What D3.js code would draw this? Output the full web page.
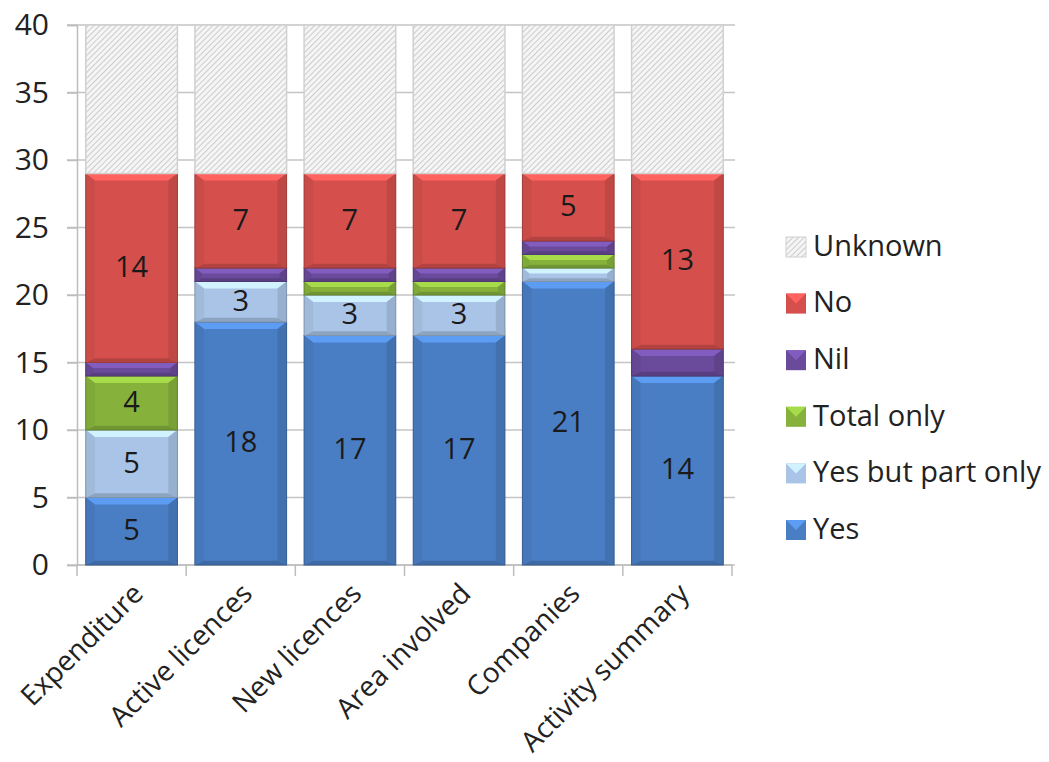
<!DOCTYPE html>
<html><head><meta charset="utf-8">
<script src="https://cdn.jsdelivr.net/npm/d3@7"></script>
<style>body{margin:0;background:#fff;font-family:"Open Sans",sans-serif;}</style>
</head><body>
<svg id="c" width="1049" height="762"></svg>
<script>
const categories = ["Expenditure","Active licences","New licences","Area involved","Companies","Activity summary"];
const seriesNames = ["Yes","Yes but part only","Total only","Nil","No","Unknown"];
const yes        = [5, 18, 17, 17, 21, 14];
const partOnly   = [5, 3, 3, 3, 1, 0];
const totalOnly  = [4, 0, 1, 1, 1, 0];
const nil        = [1, 1, 1, 1, 1, 2];
const no         = [14, 7, 7, 7, 5, 13];
const unknown    = [11, 11, 11, 11, 11, 11];
const yTicks = [0,5,10,15,20,25,30,35,40];

const colors = {"Yes":"#4a7ec4","Yes but part only":"#a9c4e6","Total only":"#86b23c","Nil":"#6a4a9a","No":"#d5504d","Unknown":"url(#hatch)"};
const seriesValues = [yes, partOnly, totalOnly, nil, no, unknown];
const FONT = "'Open Sans',sans-serif";

const svg = d3.select("#c");
const defs = svg.append("defs");
const pat = defs.append("pattern").attr("id","hatch").attr("patternUnits","userSpaceOnUse")
  .attr("width",4).attr("height",4).attr("patternTransform","rotate(45)");
pat.append("rect").attr("width",4).attr("height",4).attr("fill","#f5f5f5");
pat.append("line").attr("x1",0).attr("y1",0).attr("x2",0).attr("y2",4).attr("stroke","#c2c2c2").attr("stroke-width",1.6);

const x = d3.scaleBand().domain(categories).range([77,732]).paddingInner(0.16).paddingOuter(0.08);
const y = d3.scaleLinear().domain([0,40]).range([565,25]);

// gridlines
svg.append("g").selectAll("line").data(yTicks).join("line")
  .attr("x1",67).attr("x2",735).attr("y1",d=>y(d)).attr("y2",d=>y(d))
  .attr("stroke","#c4c4c4").attr("stroke-width",1.5);

// y axis
const ya = svg.append("g").attr("transform","translate(77,0)")
  .call(d3.axisLeft(y).tickValues(yTicks).tickSize(10).tickPadding(18));
ya.select(".domain").attr("stroke","#bdbdbd").attr("stroke-width",1.5);
ya.selectAll(".tick line").attr("stroke","#bdbdbd").attr("stroke-width",1.5);
ya.selectAll("text").attr("font-size",30).attr("fill","#222").attr("font-family",FONT);

// x axis
const edges = categories.map(c=>x(c)-x.step()*x.paddingInner()/2).concat([732]);
svg.append("g").selectAll("line").data(edges).join("line")
  .attr("x1",d=>d).attr("x2",d=>d).attr("y1",565).attr("y2",576)
  .attr("stroke","#bdbdbd").attr("stroke-width",1.5);
svg.append("line").attr("x1",77).attr("x2",732).attr("y1",565).attr("y2",565).attr("stroke","#bdbdbd").attr("stroke-width",1.5);

// stacks
const stackData = categories.map((c,i)=>{
  let acc=0;
  return seriesNames.map((s,k)=>{const v=seriesValues[k][i]; const seg={cat:c,series:s,v:v,y0:acc,y1:acc+v}; acc+=v; return seg;});
});
const bw = x.bandwidth();
const gBars = svg.append("g");
stackData.forEach(segs=>{
  segs.forEach(seg=>{
    if(seg.v<=0) return;
    const x0 = x(seg.cat), yt = y(seg.y1), yb = y(seg.y0), h = yb-yt;
    const g = gBars.append("g");
    if(seg.series==="Unknown"){
      g.append("rect").attr("x",x0).attr("y",yt).attr("width",bw).attr("height",h)
        .attr("fill","url(#hatch)").attr("stroke","#d0d0d0").attr("stroke-width",1.5);
      return;
    }
    const base = d3.color(colors[seg.series]);
    g.append("rect").attr("x",x0).attr("y",yt).attr("width",bw).attr("height",h).attr("fill",base);
    const b = Math.min(7, h/2.5);
    g.append("polygon").attr("points",[[x0,yt],[x0+bw,yt],[x0+bw-b*1.3,yt+b],[x0+b*1.3,yt+b]].join(" "))
      .attr("fill",base.brighter(0.6));
    g.append("polygon").attr("points",[[x0,yb],[x0+bw,yb],[x0+bw-b*1.3,yb-b*0.6],[x0+b*1.3,yb-b*0.6]].join(" "))
      .attr("fill",base.darker(0.5));
    g.append("polygon").attr("points",[[x0,yt],[x0+b*1.3,yt+b],[x0+b*1.3,yb-b*0.6],[x0,yb]].join(" "))
      .attr("fill",base.darker(0.15));
    g.append("polygon").attr("points",[[x0+bw,yt],[x0+bw-b*1.3,yt+b],[x0+bw-b*1.3,yb-b*0.6],[x0+bw,yb]].join(" "))
      .attr("fill",base.darker(0.3));
    g.append("rect").attr("x",x0).attr("y",yt).attr("width",bw).attr("height",h)
      .attr("fill","none").attr("stroke",base.darker(0.8)).attr("stroke-width",1);
    if(seg.v>=3){
      g.append("text").attr("x",x0+bw/2).attr("y",(yt+yb)/2+1).attr("text-anchor","middle")
        .attr("dominant-baseline","middle").attr("font-size",29).attr("font-family",FONT)
        .attr("fill","#1a1a1a").text(seg.v);
    }
  });
});

// category labels
svg.append("g").selectAll("text").data(categories).join("text")
  .attr("transform",d=>`translate(${x(d)+bw/2+8},${590}) rotate(-45)`)
  .attr("text-anchor","end").attr("dominant-baseline","middle").attr("font-family",FONT)
  .attr("font-size",28).attr("fill","#222").text(d=>d);

// legend
const legendOrder = seriesNames.slice().reverse();
const lg = svg.append("g");
legendOrder.forEach((s,i)=>{
  const ly = 247 + i*56.6;
  const gi = lg.append("g");
  if(s==="Unknown"){
    gi.append("rect").attr("x",786).attr("y",ly-10).attr("width",20).attr("height",20).attr("fill","url(#hatch)").attr("stroke","#d0d0d0");
  } else {
    const c = d3.color(colors[s]);
    gi.append("rect").attr("x",786).attr("y",ly-10).attr("width",20).attr("height",20).attr("fill",c);
    gi.append("polygon").attr("points",[[786,ly-10],[806,ly-10],[796,ly]].join(" ")).attr("fill",c.brighter(0.6));
  }
  gi.append("text").attr("x",813).attr("y",ly+1).attr("dominant-baseline","middle").attr("font-family",FONT)
    .attr("font-size",29).attr("fill","#222").text(s);
});
</script>
</body></html>
